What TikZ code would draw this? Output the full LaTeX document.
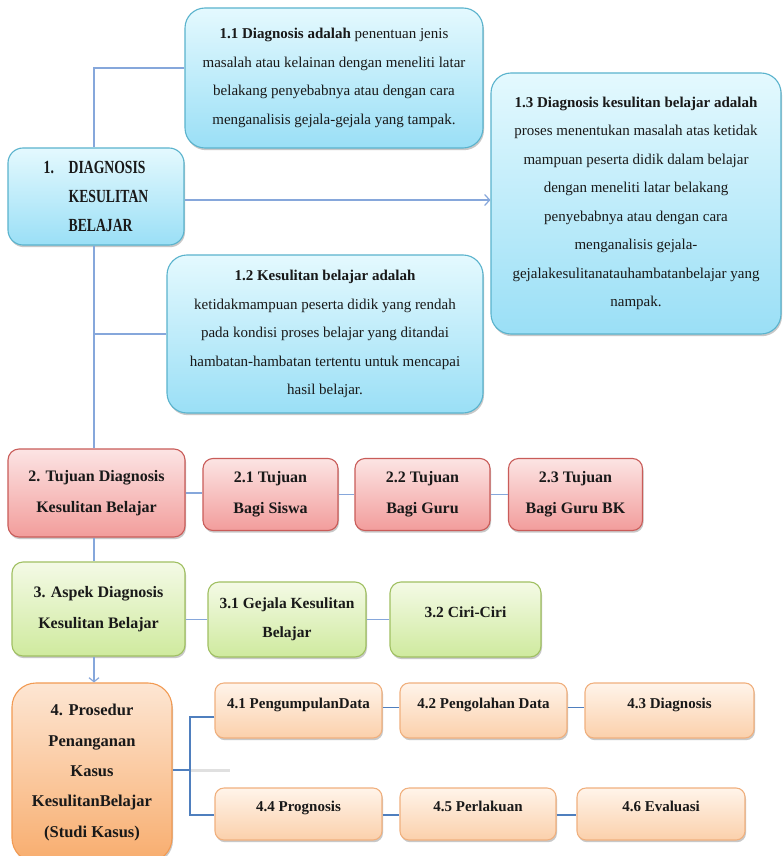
\documentclass[tikz,border=0pt]{standalone}
\usepackage{fontspec}
\setmainfont{Liberation Serif}
\newfontfamily\narrowserif{Liberation Serif}[FakeStretch=0.74]
\usetikzlibrary{shadows,arrows.meta}

\definecolor{aquaTop}{HTML}{E4F9FE}
\definecolor{aquaBot}{HTML}{9ADFF6}
\definecolor{aquaEdge}{HTML}{5AB3CD}
\definecolor{roseTop}{HTML}{FCE4E4}
\definecolor{roseBot}{HTML}{F29D9B}
\definecolor{roseEdge}{HTML}{C95C59}
\definecolor{limeTop}{HTML}{F4FAE6}
\definecolor{limeBot}{HTML}{CFEA9E}
\definecolor{limeEdge}{HTML}{A0C062}
\definecolor{amberTop}{HTML}{FDE6D3}
\definecolor{amberBot}{HTML}{F8AD6E}
\definecolor{amberEdge}{HTML}{F29A52}
\definecolor{peachTop}{HTML}{FFF4EA}
\definecolor{peachBot}{HTML}{FBD0AB}
\definecolor{peachEdge}{HTML}{F0B07E}
\definecolor{linkBlue}{HTML}{86A7DB}
\definecolor{forkBlue}{HTML}{4F7FBE}

\tikzset{
  card/.style={draw, line width=1.1pt, align=center, inner sep=2pt, text=black!90,
    drop shadow={shadow xshift=1pt, shadow yshift=-2.2pt, opacity=0.3, fill=black!70}},
  sz/.style 2 args={minimum width=#1pt, minimum height=#2pt},
  aqua/.style={card, draw=aquaEdge, top color=aquaTop, bottom color=aquaBot,
    rounded corners=20pt, font=\fontsize{15}{28.5}\selectfont},
  rose/.style={card, draw=roseEdge, top color=roseTop, bottom color=roseBot,
    rounded corners=11pt, font=\bfseries\fontsize{16}{31}\selectfont},
  lime/.style={card, draw=limeEdge, top color=limeTop, bottom color=limeBot,
    rounded corners=11pt, font=\bfseries\fontsize{15.5}{29.5}\selectfont},
  amber/.style={card, draw=amberEdge, top color=amberTop, bottom color=amberBot,
    rounded corners=24pt, font=\bfseries\fontsize{16.5}{30.3}\selectfont},
  peach/.style={card, draw=peachEdge, top color=peachTop, bottom color=peachBot,
    rounded corners=9pt, font=\bfseries\fontsize{15}{29}\selectfont},
  raised/.style={text height=10.5pt, text depth=15.5pt},
  link/.style={line width=1.6pt, draw=linkBlue},
  forklink/.style={line width=1.6pt, draw=forkBlue},
  barb/.style={-{Straight Barb[length=5pt,width=11pt,line width=1.2pt]}},
}

\begin{document}
\begin{tikzpicture}[x=1pt,y=-1pt]
\useasboundingbox (0,0) rectangle (783,856);
\fill[white] (0,0) rectangle (783,856);
\clip (0,0) rectangle (783,856);

% --- section 1: definitions ---
\node[aqua, sz={298}{140}] (b11) at (334,78)
  {\textbf{1.1 Diagnosis adalah} penentuan jenis\\
   masalah atau kelainan dengan meneliti latar\\
   belakang penyebabnya atau dengan cara\\
   menganalisis gejala-gejala yang tampak.};

\node[aqua, sz={176}{97}, rounded corners=15pt, align=left,
      font=\narrowserif\bfseries\fontsize{18.5}{29}\selectfont] (b1) at (96,196.5)
  {\makebox[25pt][l]{1.}DIAGNOSIS\\
   \hspace*{25pt}KESULITAN\\
   \hspace*{25pt}BELAJAR};

\node[aqua, sz={290}{261}] (b13) at (636,203.5)
  {\textbf{1.3 Diagnosis kesulitan belajar adalah}\\
   proses menentukan masalah atas ketidak\\
   mampuan peserta didik dalam belajar\\
   dengan meneliti latar belakang\\
   penyebabnya atau dengan cara\\
   menganalisis gejala-\\
   gejalakesulitanatauhambatanbelajar yang\\
   nampak.};

\node[aqua, sz={316}{158}] (b12) at (325,334)
  {\textbf{1.2 Kesulitan belajar adalah}\\
   ketidakmampuan peserta didik yang rendah\\
   pada kondisi proses belajar yang ditandai\\
   hambatan-hambatan tertentu untuk mencapai\\
   hasil belajar.};

% --- section 2: goals ---
\node[rose, sz={177}{88}] (b2) at (96.5,493)
  {2. Tujuan Diagnosis\\Kesulitan Belajar};
\node[rose, sz={135}{72}, rounded corners=10pt] (b21) at (270.5,494.5)
  {2.1 Tujuan\\Bagi Siswa};
\node[rose, sz={135}{72}, rounded corners=10pt] (b22) at (422.5,494.5)
  {2.2 Tujuan\\Bagi Guru};
\node[rose, sz={134}{72}, rounded corners=10pt] (b23) at (575.5,494.5)
  {2.3 Tujuan\\Bagi Guru BK};

% --- section 3: aspects ---
\node[lime, sz={173}{94}, font=\bfseries\fontsize{16}{31}\selectfont] (b3) at (98.5,609)
  {3. Aspek Diagnosis\\Kesulitan Belajar};
\node[lime, sz={158}{75}] (b31) at (287,619.5)
  {3.1 Gejala Kesulitan\\Belajar};
\node[lime, sz={151}{75}, raised] (b32) at (465.5,619.5)
  {3.2 Ciri-Ciri};

% --- section 4: case handling procedure ---
\node[amber, sz={160}{179}] (b4) at (92,772.5)
  {4. Prosedur\\Penanganan\\Kasus\\KesulitanBelajar\\(Studi Kasus)};
\node[peach, sz={167}{55}, raised] (b41) at (298.5,710.5) {4.1 PengumpulanData};
\node[peach, sz={167}{55}, raised] (b42) at (483.5,710.5) {4.2 Pengolahan Data};
\node[peach, sz={169}{55}, raised] (b43) at (669.5,710.5) {4.3 Diagnosis};
\node[peach, sz={167}{52}, raised] (b44) at (298.5,814) {4.4 Prognosis};
\node[peach, sz={156}{52}, raised] (b45) at (478,814) {4.5 Perlakuan};
\node[peach, sz={168}{52}, raised] (b46) at (661,814) {4.6 Evaluasi};

% --- connectors ---
\coordinate (trunk) at (94,68);
\coordinate (arrowrow) at (0,200);
\draw[link] (b11.west |- trunk) -- (trunk) -- (b1.north -| trunk);
\draw[link] (b1.south -| trunk) -- (b2.north -| trunk);
\draw[link] (b12.west) -- (b12.west -| trunk);
\draw[link, barb] (b1.east |- arrowrow) -- (b13.west |- arrowrow);

\draw[link] (b2.east) -- (b2.east -| b21.west);
\draw[link] (b21.east) -- (b22.west);
\draw[link] (b22.east) -- (b23.west);

\draw[link] (b2.south -| trunk) -- (b3.north -| trunk);
\draw[link] (b31.west) -- (b31.west -| b3.east);
\draw[link] (b31.east) -- (b32.west);
\draw[link, -{Straight Barb[length=4pt,width=10pt,line width=1.2pt]}]
  (b3.south -| trunk) -- (b4.north -| trunk);

\coordinate (fork) at (190,770);
\coordinate (forktop) at (190,717);
\coordinate (forkbot) at (190,815);
\coordinate (forkstub) at (230,770);
\draw[black!12, line width=3pt] (fork) -- (forkstub);
\draw[forklink] (b4.east |- fork) -- (fork);
\draw[forklink] (b41.west |- forktop) -| (forkbot) -- (b44.west |- forkbot);
\draw[forklink] ([yshift=3pt]b41.east) -- ([yshift=3pt]b42.west);
\draw[forklink] ([yshift=3pt]b42.east) -- ([yshift=3pt]b43.west);
\draw[forklink] ([yshift=-1pt]b44.east) -- ([yshift=-1pt]b45.west);
\draw[forklink] ([yshift=-1pt]b45.east) -- ([yshift=-1pt]b46.west);
\end{tikzpicture}
\end{document}
